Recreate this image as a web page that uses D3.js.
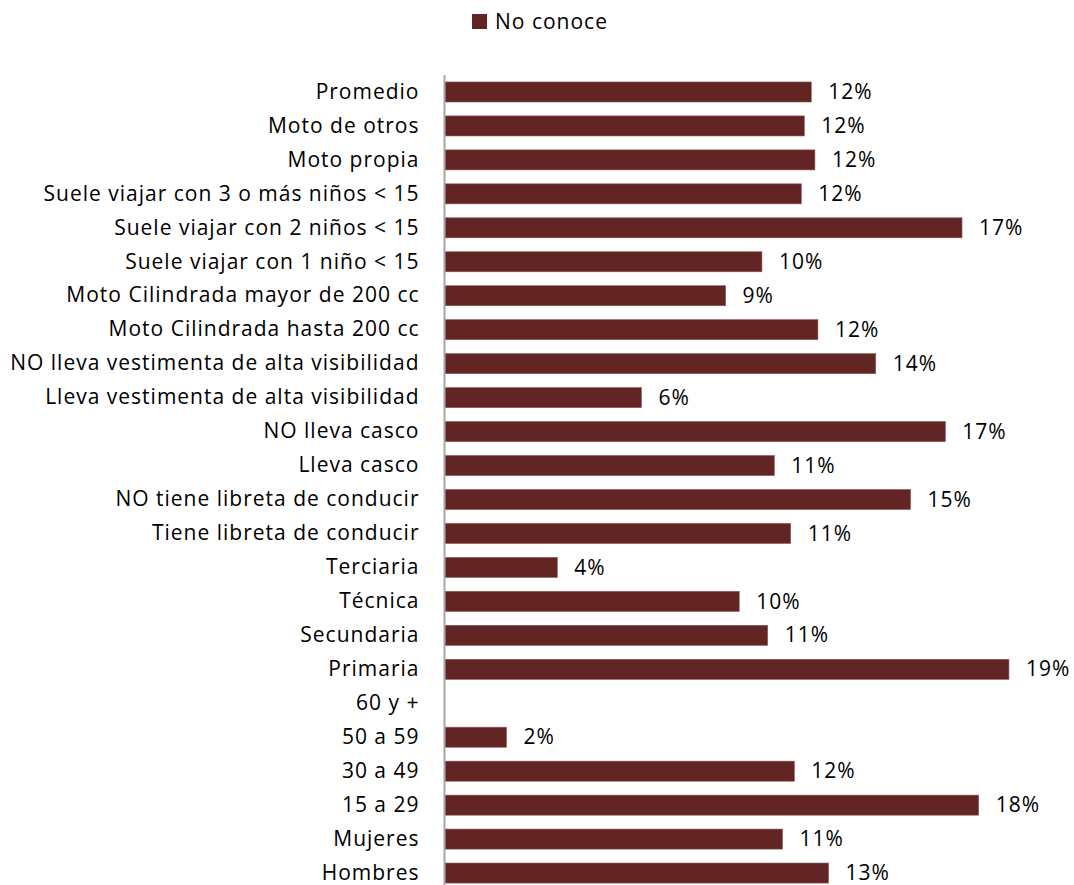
<!DOCTYPE html>
<html>
<head>
<meta charset="utf-8">
<script src="https://cdn.jsdelivr.net/npm/d3@7"></script>
<style>
  body { margin: 0; background: #fff; }
  svg { display: block; }
  text { font-family: "Open Sans", Lato, sans-serif; fill: #000; letter-spacing: 1px; }
</style>
</head>
<body>
<svg id="chart" width="1074" height="885"></svg>
<script>
const categories = [
  "Promedio", "Moto de otros", "Moto propia",
  "Suele viajar con 3 o más niños < 15", "Suele viajar con 2 niños < 15",
  "Suele viajar con 1 niño < 15", "Moto Cilindrada mayor de 200 cc",
  "Moto Cilindrada hasta 200 cc", "NO lleva vestimenta de alta visibilidad",
  "Lleva vestimenta de alta visibilidad", "NO lleva casco", "Lleva casco",
  "NO tiene libreta de conducir", "Tiene libreta de conducir",
  "Terciaria", "Técnica", "Secundaria", "Primaria",
  "60 y +", "50 a 59", "30 a 49", "15 a 29", "Mujeres", "Hombres"
];
const noConoce = [
  0.1210, 0.1187, 0.1222, 0.1177, 0.1708, 0.1047, 0.0927, 0.1232,
  0.1423, 0.0649, 0.1653, 0.1088, 0.1538, 0.1142, 0.0371, 0.0972,
  0.1066, 0.1863, null, 0.0203, 0.1154, 0.1763, 0.1115, 0.1267
];
const seriesName = "No conoce";
const barColor = "#632523";
const fontFam = "'Open Sans', Lato, sans-serif";
const fs = 21;

const svg = d3.select("#chart");
const plotLeft = 445, plotRight = 445 + 605.4;
const plotTop = 75, plotBottom = 75 + 24 * 33.96;

const x = d3.scaleLinear().domain([0, 0.2]).range([plotLeft, plotRight]);
const y = d3.scaleBand().domain(categories).range([plotTop, plotBottom]).paddingInner(0.41).paddingOuter(0.205);

const data = categories.map((c, i) => ({ c, v: noConoce[i] }));

// bars
svg.append("g").selectAll("rect")
  .data(data.filter(d => d.v != null))
  .join("rect")
  .attr("x", x(0))
  .attr("y", d => y(d.c))
  .attr("width", d => x(d.v) - x(0))
  .attr("height", y.bandwidth())
  .attr("fill", barColor)
  .attr("stroke", "#8a5654")
  .attr("stroke-width", 0.6);

// value labels
svg.append("g").selectAll("text")
  .data(data.filter(d => d.v != null))
  .join("text")
  .attr("x", d => x(d.v) + 17)
  .attr("y", d => y(d.c) + y.bandwidth() / 2)
  .attr("dy", "0.34em")
  .attr("font-size", fs)
  .text(d => Math.round(d.v * 100) + "%");

// axis
const yAxis = d3.axisLeft(y).tickSize(0).tickPadding(25);
const ga = svg.append("g").attr("transform", `translate(${plotLeft - 0.5},0)`).call(yAxis);
ga.select(".domain").attr("stroke", "#a6a6a6").attr("stroke-width", 2)
  .attr("d", `M0,${plotTop}V885`);
ga.selectAll("text").attr("font-size", fs).attr("fill", "#000")
  .style("font-family", fontFam);

// legend
const lg = svg.append("g");
lg.append("rect").attr("x", 472).attr("y", 14).attr("width", 15).attr("height", 15).attr("fill", barColor);
lg.append("text").attr("x", 495).attr("y", 21.5).attr("dy", "0.36em").attr("font-size", fs).text(seriesName);
</script>
</body>
</html>
